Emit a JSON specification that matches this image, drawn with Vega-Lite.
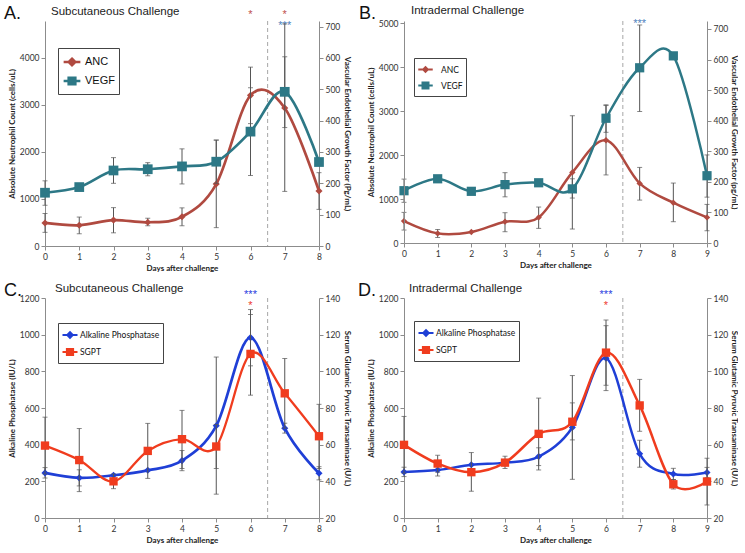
{
"$schema": "https://vega.github.io/schema/vega-lite/v6.json",
"background": "#ffffff",
"padding": {"left": 3, "top": 4, "right": 0, "bottom": 0},
"datasets": {
"A": [
{"day":0,"series":"ANC","value":490,"lo":290,"hi":690},
{"day":1,"series":"ANC","value":440,"lo":260,"hi":615},
{"day":2,"series":"ANC","value":550,"lo":280,"hi":815},
{"day":3,"series":"ANC","value":505,"lo":430,"hi":590},
{"day":4,"series":"ANC","value":620,"lo":430,"hi":810},
{"day":5,"series":"ANC","value":1316,"lo":390,"hi":2250},
{"day":6,"series":"ANC","value":3200,"lo":2600,"hi":3800},
{"day":7,"series":"ANC","value":2930,"lo":1160,"hi":4020},
{"day":8,"series":"ANC","value":1168,"lo":778,"hi":1558},
{"day":0,"series":"VEGF","value":170,"lo":130,"hi":208},
{"day":1,"series":"VEGF","value":188,"lo":null,"hi":null},
{"day":2,"series":"VEGF","value":241,"lo":200,"hi":282},
{"day":3,"series":"VEGF","value":245,"lo":224,"hi":266},
{"day":4,"series":"VEGF","value":254,"lo":198,"hi":310},
{"day":5,"series":"VEGF","value":269,"lo":200,"hi":338},
{"day":6,"series":"VEGF","value":365,"lo":225,"hi":505},
{"day":7,"series":"VEGF","value":492,"lo":378,"hi":709},
{"day":8,"series":"VEGF","value":268,"lo":null,"hi":null}
],
"B": [
{"day":0,"series":"ANC","value":500,"lo":295,"hi":697},
{"day":1,"series":"ANC","value":219,"lo":128,"hi":310},
{"day":2,"series":"ANC","value":250,"lo":null,"hi":null},
{"day":3,"series":"ANC","value":485,"lo":257,"hi":690},
{"day":4,"series":"ANC","value":583,"lo":333,"hi":819},
{"day":5,"series":"ANC","value":1608,"lo":318,"hi":2898},
{"day":6,"series":"ANC","value":2340,"lo":1550,"hi":3130},
{"day":7,"series":"ANC","value":1357,"lo":977,"hi":1721},
{"day":8,"series":"ANC","value":917,"lo":485,"hi":1365},
{"day":9,"series":"ANC","value":583,"lo":279,"hi":879},
{"day":0,"series":"VEGF","value":171,"lo":133,"hi":209},
{"day":1,"series":"VEGF","value":210,"lo":null,"hi":null},
{"day":2,"series":"VEGF","value":169,"lo":160,"hi":180},
{"day":3,"series":"VEGF","value":191,"lo":151,"hi":230},
{"day":4,"series":"VEGF","value":197,"lo":null,"hi":null},
{"day":5,"series":"VEGF","value":177,"lo":147,"hi":210},
{"day":6,"series":"VEGF","value":408,"lo":362,"hi":452},
{"day":7,"series":"VEGF","value":573,"lo":430,"hi":713},
{"day":8,"series":"VEGF","value":612,"lo":null,"hi":null},
{"day":9,"series":"VEGF","value":220,"lo":150,"hi":288}
],
"C": [
{"day":0,"series":"Alkaline Phosphatase","value":246,"lo":218,"hi":275},
{"day":1,"series":"Alkaline Phosphatase","value":219,"lo":175,"hi":263},
{"day":2,"series":"Alkaline Phosphatase","value":233,"lo":null,"hi":null},
{"day":3,"series":"Alkaline Phosphatase","value":260,"lo":null,"hi":null},
{"day":4,"series":"Alkaline Phosphatase","value":313,"lo":258,"hi":368},
{"day":5,"series":"Alkaline Phosphatase","value":503,"lo":130,"hi":878},
{"day":6,"series":"Alkaline Phosphatase","value":984,"lo":830,"hi":1137},
{"day":7,"series":"Alkaline Phosphatase","value":490,"lo":463,"hi":517},
{"day":8,"series":"Alkaline Phosphatase","value":244,"lo":208,"hi":280},
{"day":0,"series":"SGPT","value":59.5,"lo":44,"hi":75},
{"day":1,"series":"SGPT","value":51.6,"lo":34.4,"hi":68.8},
{"day":2,"series":"SGPT","value":40,"lo":36,"hi":44},
{"day":3,"series":"SGPT","value":56.6,"lo":41.6,"hi":71.6},
{"day":4,"series":"SGPT","value":63,"lo":47,"hi":78.7},
{"day":5,"series":"SGPT","value":59,"lo":47,"hi":71},
{"day":6,"series":"SGPT","value":109.5,"lo":87,"hi":131},
{"day":7,"series":"SGPT","value":88,"lo":69,"hi":107},
{"day":8,"series":"SGPT","value":64.6,"lo":47,"hi":82}
],
"D": [
{"day":0,"series":"Alkaline Phosphatase","value":251,"lo":226,"hi":277},
{"day":1,"series":"Alkaline Phosphatase","value":262,"lo":229,"hi":295},
{"day":2,"series":"Alkaline Phosphatase","value":290,"lo":null,"hi":null},
{"day":3,"series":"Alkaline Phosphatase","value":302,"lo":null,"hi":null},
{"day":4,"series":"Alkaline Phosphatase","value":335,"lo":286,"hi":383},
{"day":5,"series":"Alkaline Phosphatase","value":494,"lo":211,"hi":777},
{"day":6,"series":"Alkaline Phosphatase","value":872,"lo":695,"hi":1049},
{"day":7,"series":"Alkaline Phosphatase","value":350,"lo":277,"hi":424},
{"day":8,"series":"Alkaline Phosphatase","value":240,"lo":210,"hi":271},
{"day":9,"series":"Alkaline Phosphatase","value":248,"lo":220,"hi":276},
{"day":0,"series":"SGPT","value":59.9,"lo":44.4,"hi":75.4},
{"day":1,"series":"SGPT","value":49.7,"lo":45,"hi":54.2},
{"day":2,"series":"SGPT","value":45,"lo":34.6,"hi":55.7},
{"day":3,"series":"SGPT","value":50.2,"lo":47,"hi":53.7},
{"day":4,"series":"SGPT","value":65.9,"lo":46.2,"hi":85.4},
{"day":5,"series":"SGPT","value":72.5,"lo":62.6,"hi":82.8},
{"day":6,"series":"SGPT","value":110.2,"lo":92.4,"hi":128},
{"day":7,"series":"SGPT","value":81.4,"lo":67.3,"hi":95.6},
{"day":8,"series":"SGPT","value":38.4,"lo":35.8,"hi":41},
{"day":9,"series":"SGPT","value":39.9,"lo":27.1,"hi":52.6}
]
},
"concat": [
{
"width": 274, "height": 225,
"title": {"text": "Subcutaneous Challenge", "dx": 6, "offset": -12},
"data": {"name": "A"},
"layer": [
{
"transform": [{"filter": "datum.series === 'ANC'"}],
"layer": [
{"data": {"values": [{"d": 6.5}]}, "mark": {"type": "rule", "strokeDash": [4, 3], "color": "#a6a6a6", "strokeWidth": 1}, "encoding": {"x": {"field": "d", "type": "quantitative", "scale": {"domain": [0, 8], "nice": false, "zero": false}}}},
{"mark": {"type": "errorbar", "ticks": true, "color": "#555555", "thickness": 1}, "encoding": {"x": {"field": "day", "type": "quantitative", "title": "Days after challenge", "scale": {"domain": [0, 8], "nice": false, "zero": false}}, "y": {"field": "lo", "type": "quantitative", "title": "Absolute Neutrophil Count (cells/uL)", "scale": {"domain": [0, 4780], "nice": false}}, "y2": {"field": "hi"}}},
{"mark": {"type": "line", "interpolate": "cardinal", "strokeWidth": 2.7}, "encoding": {
"x": {"field": "day", "type": "quantitative", "scale": {"domain": [0, 8], "nice": false, "zero": false}, "axis": {"values": [0,1,2,3,4,5,6,7,8], "tickCount": 30, "format": "d", "title": "Days after challenge", "labelOverlap": false, "titlePadding": 4}},
"y": {"field": "value", "type": "quantitative", "scale": {"domain": [0, 4780], "nice": false}, "axis": {"orient": "left", "values": [0,1000,2000,3000,4000], "tickCount": 30, "format": "d", "labelOverlap": false, "title": "Absolute Neutrophil Count (cells/uL)"}},
"color": {"field": "series", "type": "nominal", "scale": {"domain": ["ANC", "VEGF"], "range": ["#b04a40", "#2d7886"]},
 "legend": {"orient": "none", "legendX": 13, "legendY": 27, "title": null, "padding": 4, "strokeColor": "#444444", "fillColor": "#ffffff", "labelFont": "Liberation Sans", "labelFontSize": 11, "labelColor": "#111111", "symbolSize": 280, "symbolStrokeWidth": 2.5, "rowPadding": 0, "labelOffset": 3,
 "encode": {"symbols": {"update": {
  "shape": {"signal": "datum.value === 'ANC' ? 'M-1,0L1,0M0,-0.4L0.4,0L0,0.4L-0.4,0Z' : 'M-1,0L1,0M-0.4,-0.4L0.4,-0.4L0.4,0.4L-0.4,0.4Z'"},
  "fill": {"signal": "datum.value === 'ANC' ? '#b04a40' : '#2d7886'"},
  "stroke": {"signal": "datum.value === 'ANC' ? '#b04a40' : '#2d7886'"},
  "opacity": {"value": 1}}}}}}
}},
{"mark": {"type": "point", "filled": true, "opacity": 1, "shape": "diamond", "size": 50}, "encoding": {"x": {"field": "day", "type": "quantitative", "scale": {"domain": [0, 8], "nice": false, "zero": false}}, "y": {"field": "value", "type": "quantitative", "scale": {"domain": [0, 4780], "nice": false}}, "color": {"field": "series", "type": "nominal", "scale": {"domain": ["ANC", "VEGF"], "range": ["#b04a40", "#2d7886"]}, "legend": null}}},
{"data": {"values": [{"letter": "A."}]}, "mark": {"type": "text", "align": "left", "baseline": "alphabetic", "fontSize": 18, "font": "Liberation Sans", "dy": -2, "color": "#111111"}, "encoding": {"x": {"datum": -1.2, "type": "quantitative", "scale": {"domain": [0, 8], "nice": false, "zero": false}}, "y": {"datum": 4780, "type": "quantitative", "scale": {"domain": [0, 4780], "nice": false}}, "text": {"field": "letter"}}},
{"data": {"values": [{"day": 6, "star": "*"}, {"day": 7, "star": "*"}]}, "mark": {"type": "text", "baseline": "alphabetic", "fontSize": 11, "font": "Liberation Sans", "dy": -3, "color": "#c0504d"}, "encoding": {"x": {"field": "day", "type": "quantitative", "scale": {"domain": [0, 8], "nice": false, "zero": false}}, "y": {"datum": 4780, "type": "quantitative", "scale": {"domain": [0, 4780], "nice": false}}, "text": {"field": "star"}}},
{"data": {"values": [{"day": 7, "star": "***"}]}, "mark": {"type": "text", "baseline": "alphabetic", "fontSize": 11, "font": "Liberation Sans", "dy": 7.5, "color": "#4f81bd"}, "encoding": {"x": {"field": "day", "type": "quantitative", "scale": {"domain": [0, 8], "nice": false, "zero": false}}, "y": {"datum": 4780, "type": "quantitative", "scale": {"domain": [0, 4780], "nice": false}}, "text": {"field": "star"}}}
]
},
{
"transform": [{"filter": "datum.series === 'VEGF'"}],
"layer": [
{"mark": {"type": "errorbar", "ticks": true, "color": "#555555", "thickness": 1}, "encoding": {"x": {"field": "day", "type": "quantitative", "title": "Days after challenge", "scale": {"domain": [0, 8], "nice": false, "zero": false}}, "y": {"field": "lo", "type": "quantitative", "title": "Vascular Endothelial Growth Factor (Pg/mL)", "scale": {"domain": [0, 718], "nice": false}}, "y2": {"field": "hi"}}},
{"mark": {"type": "line", "interpolate": "cardinal", "strokeWidth": 2.7}, "encoding": {
"x": {"field": "day", "type": "quantitative", "scale": {"domain": [0, 8], "nice": false, "zero": false}},
"y": {"field": "value", "type": "quantitative", "scale": {"domain": [0, 718], "nice": false}, "axis": {"orient": "right", "values": [0,100,200,300,400,500,600,700], "tickCount": 30, "format": "d", "labelOverlap": false, "title": "Vascular Endothelial Growth Factor (Pg/mL)"}},
"color": {"field": "series", "type": "nominal", "scale": {"domain": ["ANC", "VEGF"], "range": ["#b04a40", "#2d7886"]}, "legend": null}}},
{"mark": {"type": "point", "filled": true, "opacity": 1, "shape": "square", "size": 95}, "encoding": {"x": {"field": "day", "type": "quantitative", "scale": {"domain": [0, 8], "nice": false, "zero": false}}, "y": {"field": "value", "type": "quantitative", "scale": {"domain": [0, 718], "nice": false}}, "color": {"field": "series", "type": "nominal", "scale": {"domain": ["ANC", "VEGF"], "range": ["#b04a40", "#2d7886"]}, "legend": null}}}
]
}
],
"resolve": {"scale": {"y": "independent"}}
},
{
"width": 303, "height": 222,
"title": {"text": "Intradermal Challenge", "dx": 7, "offset": -11},
"data": {"name": "B"},
"layer": [
{
"transform": [{"filter": "datum.series === 'ANC'"}],
"layer": [
{"data": {"values": [{"d": 6.5}]}, "mark": {"type": "rule", "strokeDash": [4, 3], "color": "#a6a6a6", "strokeWidth": 1}, "encoding": {"x": {"field": "d", "type": "quantitative", "scale": {"domain": [0, 9], "nice": false, "zero": false}}}},
{"mark": {"type": "errorbar", "ticks": true, "color": "#555555", "thickness": 1}, "encoding": {"x": {"field": "day", "type": "quantitative", "title": "Days after challenge", "scale": {"domain": [0, 9], "nice": false, "zero": false}}, "y": {"field": "lo", "type": "quantitative", "title": "Absolute Neutrophil Count (cells/uL)", "scale": {"domain": [0, 5055], "nice": false}}, "y2": {"field": "hi"}}},
{"mark": {"type": "line", "interpolate": "cardinal", "strokeWidth": 2.5}, "encoding": {
"x": {"field": "day", "type": "quantitative", "scale": {"domain": [0, 9], "nice": false, "zero": false}, "axis": {"values": [0,1,2,3,4,5,6,7,8,9], "tickCount": 30, "format": "d", "title": "Days after challenge", "labelOverlap": false, "titlePadding": 4}},
"y": {"field": "value", "type": "quantitative", "scale": {"domain": [0, 5055], "nice": false}, "axis": {"orient": "left", "values": [0,1000,2000,3000,4000,5000], "tickCount": 30, "format": "d", "labelOverlap": false, "labelBound": false, "zindex": 2, "title": "Absolute Neutrophil Count (cells/uL)"}},
"color": {"field": "series", "type": "nominal", "scale": {"domain": ["ANC", "VEGF"], "range": ["#b04a40", "#2d7886"]},
 "legend": {"orient": "none", "legendX": 10, "legendY": 37, "title": null, "padding": 3, "strokeColor": "#444444", "fillColor": "#ffffff", "labelFont": "Lato", "labelFontSize": 8.5, "labelColor": "#111111", "symbolSize": 210, "symbolStrokeWidth": 2.2, "rowPadding": 0, "labelOffset": 7,
 "encode": {"symbols": {"update": {
  "shape": {"signal": "datum.value === 'ANC' ? 'M-1,0L1,0M0,-0.3L0.3,0L0,0.3L-0.3,0Z' : 'M-1,0L1,0M-0.4,-0.4L0.4,-0.4L0.4,0.4L-0.4,0.4Z'"},
  "fill": {"signal": "datum.value === 'ANC' ? '#b04a40' : '#2d7886'"},
  "stroke": {"signal": "datum.value === 'ANC' ? '#b04a40' : '#2d7886'"},
  "opacity": {"value": 1}}}}}}
}},
{"mark": {"type": "point", "filled": true, "opacity": 1, "shape": "diamond", "size": 40}, "encoding": {"x": {"field": "day", "type": "quantitative", "scale": {"domain": [0, 9], "nice": false, "zero": false}}, "y": {"field": "value", "type": "quantitative", "scale": {"domain": [0, 5055], "nice": false}}, "color": {"field": "series", "type": "nominal", "scale": {"domain": ["ANC", "VEGF"], "range": ["#b04a40", "#2d7886"]}, "legend": null}}},
{"data": {"values": [{"letter": "B."}]}, "mark": {"type": "text", "align": "left", "baseline": "alphabetic", "fontSize": 18, "font": "Liberation Sans", "dy": -2, "color": "#111111"}, "encoding": {"x": {"datum": -1.34, "type": "quantitative", "scale": {"domain": [0, 9], "nice": false, "zero": false}}, "y": {"datum": 5055, "type": "quantitative", "scale": {"domain": [0, 5055], "nice": false}}, "text": {"field": "letter"}}},
{"data": {"values": [{"day": 7, "star": "***"}]}, "mark": {"type": "text", "baseline": "alphabetic", "fontSize": 11, "font": "Liberation Sans", "dy": 6, "color": "#4f81bd"}, "encoding": {"x": {"field": "day", "type": "quantitative", "scale": {"domain": [0, 9], "nice": false, "zero": false}}, "y": {"datum": 5055, "type": "quantitative", "scale": {"domain": [0, 5055], "nice": false}}, "text": {"field": "star"}}}
]
},
{
"transform": [{"filter": "datum.series === 'VEGF'"}],
"layer": [
{"mark": {"type": "errorbar", "ticks": true, "color": "#555555", "thickness": 1}, "encoding": {"x": {"field": "day", "type": "quantitative", "title": "Days after challenge", "scale": {"domain": [0, 9], "nice": false, "zero": false}}, "y": {"field": "lo", "type": "quantitative", "title": "Vascular Endothelial Growth Factor (pg/mL)", "scale": {"domain": [0, 726], "nice": false}}, "y2": {"field": "hi"}}},
{"mark": {"type": "line", "interpolate": "cardinal", "strokeWidth": 2.5}, "encoding": {
"x": {"field": "day", "type": "quantitative", "scale": {"domain": [0, 9], "nice": false, "zero": false}},
"y": {"field": "value", "type": "quantitative", "scale": {"domain": [0, 726], "nice": false}, "axis": {"orient": "right", "values": [0,100,200,300,400,500,600,700], "tickCount": 30, "format": "d", "labelOverlap": false, "title": "Vascular Endothelial Growth Factor (pg/mL)", "titlePadding": 2}},
"color": {"field": "series", "type": "nominal", "scale": {"domain": ["ANC", "VEGF"], "range": ["#b04a40", "#2d7886"]}, "legend": null}}},
{"mark": {"type": "point", "filled": true, "opacity": 1, "shape": "square", "size": 85}, "encoding": {"x": {"field": "day", "type": "quantitative", "scale": {"domain": [0, 9], "nice": false, "zero": false}}, "y": {"field": "value", "type": "quantitative", "scale": {"domain": [0, 726], "nice": false}}, "color": {"field": "series", "type": "nominal", "scale": {"domain": ["ANC", "VEGF"], "range": ["#b04a40", "#2d7886"]}, "legend": null}}}
]
}
],
"resolve": {"scale": {"y": "independent"}}
},
{
"width": 274, "height": 220,
"title": {"text": "Subcutaneous Challenge", "dx": 10, "offset": -12.6},
"data": {"name": "C"},
"layer": [
{
"transform": [{"filter": "datum.series === 'Alkaline Phosphatase'"}],
"layer": [
{"data": {"values": [{"d": 6.5}]}, "mark": {"type": "rule", "strokeDash": [4, 3], "color": "#a6a6a6", "strokeWidth": 1}, "encoding": {"x": {"field": "d", "type": "quantitative", "scale": {"domain": [0, 8], "nice": false, "zero": false}}}},
{"mark": {"type": "errorbar", "ticks": true, "color": "#555555", "thickness": 1}, "encoding": {"x": {"field": "day", "type": "quantitative", "title": "Days after challenge", "scale": {"domain": [0, 8], "nice": false, "zero": false}}, "y": {"field": "lo", "type": "quantitative", "title": "Alkaline Phosphatase (IU/L)", "scale": {"domain": [0, 1200], "nice": false}}, "y2": {"field": "hi"}}},
{"mark": {"type": "line", "interpolate": "cardinal", "strokeWidth": 2.7}, "encoding": {
"x": {"field": "day", "type": "quantitative", "scale": {"domain": [0, 8], "nice": false, "zero": false}, "axis": {"values": [0,1,2,3,4,5,6,7,8], "tickCount": 30, "format": "d", "title": "Days after challenge", "labelOverlap": false, "titlePadding": 4}},
"y": {"field": "value", "type": "quantitative", "scale": {"domain": [0, 1200], "nice": false}, "axis": {"orient": "left", "values": [0,200,400,600,800,1000,1200], "tickCount": 30, "format": "d", "labelOverlap": false, "title": "Alkaline Phosphatase (IU/L)"}},
"color": {"field": "series", "type": "nominal", "scale": {"domain": ["Alkaline Phosphatase", "SGPT"], "range": ["#1f3fd6", "#f03c1e"]},
 "legend": {"orient": "none", "legendX": 13, "legendY": 25, "title": null, "padding": 3, "strokeColor": "#444444", "fillColor": "#ffffff", "labelFont": "Lato", "labelFontSize": 8.5, "labelColor": "#111111", "symbolSize": 225, "symbolStrokeWidth": 2.2, "rowPadding": 0, "labelOffset": 1,
 "encode": {"symbols": {"update": {
  "shape": {"signal": "datum.value === 'SGPT' ? 'M-1,0L1,0M-0.4,-0.4L0.4,-0.4L0.4,0.4L-0.4,0.4Z' : 'M-1,0L1,0M0,-0.35L0.35,0L0,0.35L-0.35,0Z'"},
  "fill": {"signal": "datum.value === 'SGPT' ? '#f03c1e' : '#1f3fd6'"},
  "stroke": {"signal": "datum.value === 'SGPT' ? '#f03c1e' : '#1f3fd6'"},
  "opacity": {"value": 1}}}}}}
}},
{"mark": {"type": "point", "filled": true, "opacity": 1, "shape": "diamond", "size": 50}, "encoding": {"x": {"field": "day", "type": "quantitative", "scale": {"domain": [0, 8], "nice": false, "zero": false}}, "y": {"field": "value", "type": "quantitative", "scale": {"domain": [0, 1200], "nice": false}}, "color": {"field": "series", "type": "nominal", "scale": {"domain": ["Alkaline Phosphatase", "SGPT"], "range": ["#1f3fd6", "#f03c1e"]}, "legend": null}}},
{"data": {"values": [{"letter": "C."}]}, "mark": {"type": "text", "align": "left", "baseline": "alphabetic", "fontSize": 18, "font": "Liberation Sans", "dy": -2, "color": "#111111"}, "encoding": {"x": {"datum": -1.2, "type": "quantitative", "scale": {"domain": [0, 8], "nice": false, "zero": false}}, "y": {"datum": 1200, "type": "quantitative", "scale": {"domain": [0, 1200], "nice": false}}, "text": {"field": "letter"}}},
{"data": {"values": [{"day": 6, "star": "***"}]}, "mark": {"type": "text", "baseline": "alphabetic", "fontSize": 11, "font": "Liberation Sans", "dy": 0, "color": "#2a3de0"}, "encoding": {"x": {"field": "day", "type": "quantitative", "scale": {"domain": [0, 8], "nice": false, "zero": false}}, "y": {"datum": 1200, "type": "quantitative", "scale": {"domain": [0, 1200], "nice": false}}, "text": {"field": "star"}}},
{"data": {"values": [{"day": 6, "star": "*"}]}, "mark": {"type": "text", "baseline": "alphabetic", "fontSize": 11, "font": "Liberation Sans", "dy": 10.5, "color": "#ee3a30"}, "encoding": {"x": {"field": "day", "type": "quantitative", "scale": {"domain": [0, 8], "nice": false, "zero": false}}, "y": {"datum": 1200, "type": "quantitative", "scale": {"domain": [0, 1200], "nice": false}}, "text": {"field": "star"}}}
]
},
{
"transform": [{"filter": "datum.series === 'SGPT'"}],
"layer": [
{"mark": {"type": "errorbar", "ticks": true, "color": "#555555", "thickness": 1}, "encoding": {"x": {"field": "day", "type": "quantitative", "title": "Days after challenge", "scale": {"domain": [0, 8], "nice": false, "zero": false}}, "y": {"field": "lo", "type": "quantitative", "title": "Serum Glutamic Pyruvic Transaminase  (U/L)", "scale": {"domain": [20, 140], "nice": false, "zero": false}}, "y2": {"field": "hi"}}},
{"mark": {"type": "line", "interpolate": "cardinal", "strokeWidth": 2.3}, "encoding": {
"x": {"field": "day", "type": "quantitative", "scale": {"domain": [0, 8], "nice": false, "zero": false}},
"y": {"field": "value", "type": "quantitative", "scale": {"domain": [20, 140], "nice": false, "zero": false}, "axis": {"orient": "right", "values": [20,40,60,80,100,120,140], "tickCount": 30, "format": "d", "labelOverlap": false, "title": "Serum Glutamic Pyruvic Transaminase  (U/L)"}},
"color": {"field": "series", "type": "nominal", "scale": {"domain": ["Alkaline Phosphatase", "SGPT"], "range": ["#1f3fd6", "#f03c1e"]}, "legend": null}}},
{"mark": {"type": "point", "filled": true, "opacity": 1, "shape": "square", "size": 70}, "encoding": {"x": {"field": "day", "type": "quantitative", "scale": {"domain": [0, 8], "nice": false, "zero": false}}, "y": {"field": "value", "type": "quantitative", "scale": {"domain": [20, 140], "nice": false, "zero": false}}, "color": {"field": "series", "type": "nominal", "scale": {"domain": ["Alkaline Phosphatase", "SGPT"], "range": ["#1f3fd6", "#f03c1e"]}, "legend": null}}}
]
}
],
"resolve": {"scale": {"y": "independent"}}
},
{
"width": 303, "height": 220,
"title": {"text": "Intradermal Challenge", "dx": 5, "offset": -12},
"data": {"name": "D"},
"layer": [
{
"transform": [{"filter": "datum.series === 'Alkaline Phosphatase'"}],
"layer": [
{"data": {"values": [{"d": 6.5}]}, "mark": {"type": "rule", "strokeDash": [4, 3], "color": "#a6a6a6", "strokeWidth": 1}, "encoding": {"x": {"field": "d", "type": "quantitative", "scale": {"domain": [0, 9], "nice": false, "zero": false}}}},
{"mark": {"type": "errorbar", "ticks": true, "color": "#555555", "thickness": 1}, "encoding": {"x": {"field": "day", "type": "quantitative", "title": "Days after challenge", "scale": {"domain": [0, 9], "nice": false, "zero": false}}, "y": {"field": "lo", "type": "quantitative", "title": "Alkaline Phosphatase (IU/L)", "scale": {"domain": [0, 1200], "nice": false}}, "y2": {"field": "hi"}}},
{"mark": {"type": "line", "interpolate": "cardinal", "strokeWidth": 2.5}, "encoding": {
"x": {"field": "day", "type": "quantitative", "scale": {"domain": [0, 9], "nice": false, "zero": false}, "axis": {"values": [0,1,2,3,4,5,6,7,8,9], "tickCount": 30, "format": "d", "title": "Days after challenge", "labelOverlap": false, "titlePadding": 4}},
"y": {"field": "value", "type": "quantitative", "scale": {"domain": [0, 1200], "nice": false}, "axis": {"orient": "left", "values": [0,200,400,600,800,1000,1200], "tickCount": 30, "format": "d", "labelOverlap": false, "title": "Alkaline Phosphatase (IU/L)"}},
"color": {"field": "series", "type": "nominal", "scale": {"domain": ["Alkaline Phosphatase", "SGPT"], "range": ["#1f3fd6", "#f03c1e"]},
 "legend": {"orient": "none", "legendX": 10, "legendY": 23, "title": null, "padding": 3, "strokeColor": "#444444", "fillColor": "#ffffff", "labelFont": "Lato", "labelFontSize": 8.5, "labelColor": "#111111", "symbolSize": 225, "symbolStrokeWidth": 2.2, "rowPadding": 0, "labelOffset": 1,
 "encode": {"symbols": {"update": {
  "shape": {"signal": "datum.value === 'SGPT' ? 'M-1,0L1,0M-0.4,-0.4L0.4,-0.4L0.4,0.4L-0.4,0.4Z' : 'M-1,0L1,0M0,-0.35L0.35,0L0,0.35L-0.35,0Z'"},
  "fill": {"signal": "datum.value === 'SGPT' ? '#f03c1e' : '#1f3fd6'"},
  "stroke": {"signal": "datum.value === 'SGPT' ? '#f03c1e' : '#1f3fd6'"},
  "opacity": {"value": 1}}}}}}
}},
{"mark": {"type": "point", "filled": true, "opacity": 1, "shape": "diamond", "size": 50}, "encoding": {"x": {"field": "day", "type": "quantitative", "scale": {"domain": [0, 9], "nice": false, "zero": false}}, "y": {"field": "value", "type": "quantitative", "scale": {"domain": [0, 1200], "nice": false}}, "color": {"field": "series", "type": "nominal", "scale": {"domain": ["Alkaline Phosphatase", "SGPT"], "range": ["#1f3fd6", "#f03c1e"]}, "legend": null}}},
{"data": {"values": [{"letter": "D."}]}, "mark": {"type": "text", "align": "left", "baseline": "alphabetic", "fontSize": 18, "font": "Liberation Sans", "dy": -2, "color": "#111111"}, "encoding": {"x": {"datum": -1.37, "type": "quantitative", "scale": {"domain": [0, 9], "nice": false, "zero": false}}, "y": {"datum": 1200, "type": "quantitative", "scale": {"domain": [0, 1200], "nice": false}}, "text": {"field": "letter"}}},
{"data": {"values": [{"day": 6, "star": "***"}]}, "mark": {"type": "text", "baseline": "alphabetic", "fontSize": 11, "font": "Liberation Sans", "dy": 0, "color": "#2a3de0"}, "encoding": {"x": {"field": "day", "type": "quantitative", "scale": {"domain": [0, 9], "nice": false, "zero": false}}, "y": {"datum": 1200, "type": "quantitative", "scale": {"domain": [0, 1200], "nice": false}}, "text": {"field": "star"}}},
{"data": {"values": [{"day": 6, "star": "*"}]}, "mark": {"type": "text", "baseline": "alphabetic", "fontSize": 11, "font": "Liberation Sans", "dy": 10.5, "color": "#ee3a30"}, "encoding": {"x": {"field": "day", "type": "quantitative", "scale": {"domain": [0, 9], "nice": false, "zero": false}}, "y": {"datum": 1200, "type": "quantitative", "scale": {"domain": [0, 1200], "nice": false}}, "text": {"field": "star"}}}
]
},
{
"transform": [{"filter": "datum.series === 'SGPT'"}],
"layer": [
{"mark": {"type": "errorbar", "ticks": true, "color": "#555555", "thickness": 1}, "encoding": {"x": {"field": "day", "type": "quantitative", "title": "Days after challenge", "scale": {"domain": [0, 9], "nice": false, "zero": false}}, "y": {"field": "lo", "type": "quantitative", "title": "Serum Glutamic Pyruvic Transaminase (U/L)", "scale": {"domain": [20, 140], "nice": false, "zero": false}}, "y2": {"field": "hi"}}},
{"mark": {"type": "line", "interpolate": "cardinal", "strokeWidth": 2.5}, "encoding": {
"x": {"field": "day", "type": "quantitative", "scale": {"domain": [0, 9], "nice": false, "zero": false}},
"y": {"field": "value", "type": "quantitative", "scale": {"domain": [20, 140], "nice": false, "zero": false}, "axis": {"orient": "right", "values": [20,40,60,80,100,120,140], "tickCount": 30, "format": "d", "labelOverlap": false, "title": "Serum Glutamic Pyruvic Transaminase (U/L)", "titlePadding": 2}},
"color": {"field": "series", "type": "nominal", "scale": {"domain": ["Alkaline Phosphatase", "SGPT"], "range": ["#1f3fd6", "#f03c1e"]}, "legend": null}}},
{"mark": {"type": "point", "filled": true, "opacity": 1, "shape": "square", "size": 70}, "encoding": {"x": {"field": "day", "type": "quantitative", "scale": {"domain": [0, 9], "nice": false, "zero": false}}, "y": {"field": "value", "type": "quantitative", "scale": {"domain": [20, 140], "nice": false, "zero": false}}, "color": {"field": "series", "type": "nominal", "scale": {"domain": ["Alkaline Phosphatase", "SGPT"], "range": ["#1f3fd6", "#f03c1e"]}, "legend": null}}}
]
}
],
"resolve": {"scale": {"y": "independent"}}
}
],
"columns": 2,
"bounds": "flush",
"align": "each",
"spacing": {"row": 52, "column": 85},
"resolve": {"scale": {"color": "independent"}, "legend": {"color": "independent"}},
"config": {
"view": {"stroke": null},
"axis": {"grid": false, "domainColor": "#8c8c8c", "tickColor": "#8c8c8c", "labelColor": "#333333", "labelFont": "Lato", "labelFontSize": 8.5, "titleFont": "Lato", "titleFontSize": 8, "titleFontWeight": "bold", "titleColor": "#222222", "tickSize": 4, "labelPadding": 2, "titlePadding": 3, "labelOverlap": false, "labelFlush": false},
"title": {"font": "Liberation Sans", "fontSize": 11.5, "fontWeight": "normal", "color": "#222222", "anchor": "start", "frame": "group"}
}
}
